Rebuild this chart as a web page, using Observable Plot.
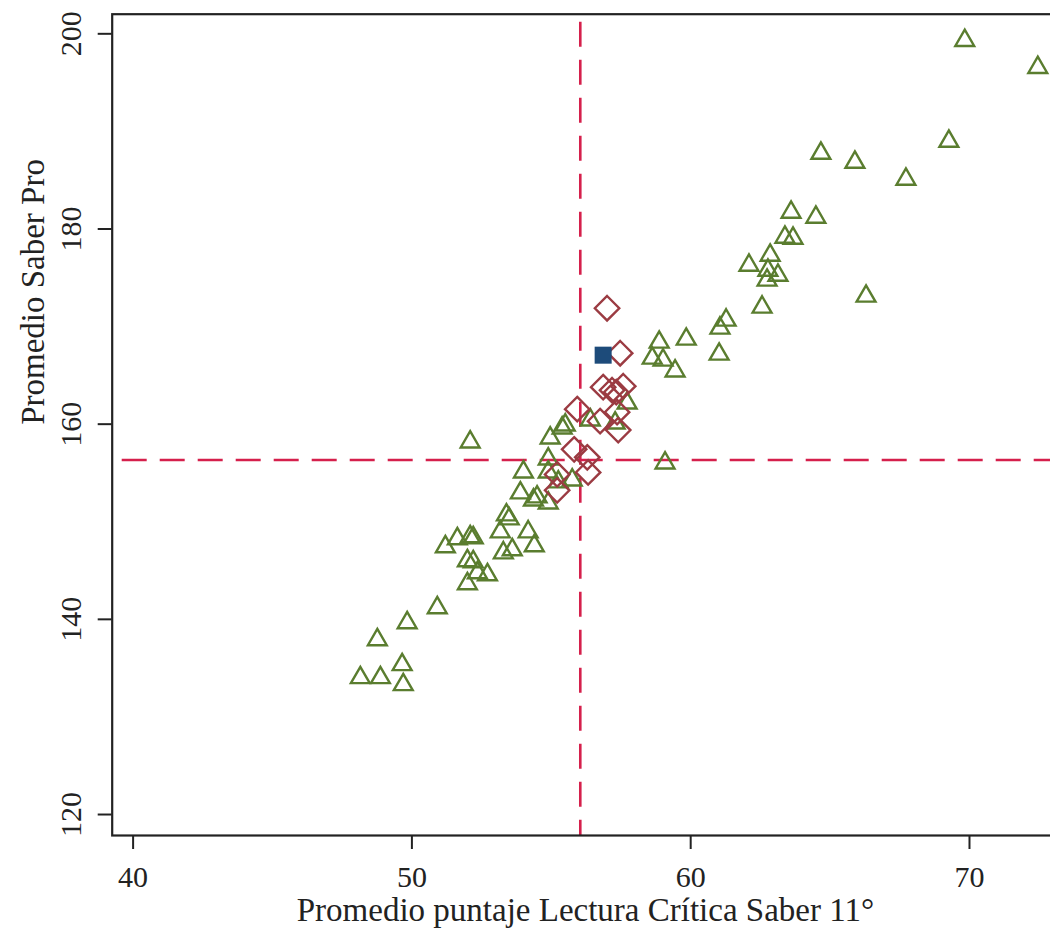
<!DOCTYPE html>
<html><head><meta charset="utf-8">
<script src="https://cdn.jsdelivr.net/npm/d3@7"></script>
<script src="https://cdn.jsdelivr.net/npm/@observablehq/plot@0.6"></script>
<style>
html,body{margin:0;padding:0;background:#fff;overflow:hidden;}
#chart svg{overflow:hidden;}
</style></head><body><div id="chart"></div>
<script>
// Green triangles (other programs)
const greenX = [69.83,72.45,69.26,64.67,65.89,67.72,63.60,64.49,63.38,63.67,62.85,62.09,62.77,63.13,62.74,66.29,62.56,61.27,61.05,59.84,58.87,61.02,58.62,59.01,59.44,57.72,57.29,56.40,55.50,55.39,54.96,52.09,54.89,54.89,54.00,55.25,55.75,59.08,53.89,54.36,54.49,54.89,53.39,53.49,53.17,54.17,54.39,53.28,53.60,51.20,51.63,52.09,52.20,51.99,52.20,52.35,52.71,51.99,50.91,49.83,48.76,49.65,49.69,48.15,48.87];
const greenY = [199.31,196.55,188.98,187.75,186.83,185.09,181.71,181.20,179.15,179.05,177.31,176.28,175.77,175.26,174.75,173.11,171.99,170.66,169.84,168.71,168.40,167.17,166.76,166.56,165.44,162.16,160.11,160.42,159.91,159.60,158.58,158.17,156.43,155.10,155.10,154.08,154.28,156.02,152.95,152.23,152.54,151.92,150.70,150.29,148.96,148.96,147.53,146.81,147.12,147.43,148.25,148.46,148.35,146.00,145.90,144.77,144.56,143.64,141.18,139.65,137.91,135.35,133.30,134.02,134.02];
// Red diamonds
const redX = [57.00,57.47,56.86,57.18,57.58,57.33,55.93,56.75,57.40,57.36,55.82,56.29,56.32,55.21,55.21];
const redY = [171.88,167.27,163.79,163.48,163.89,163.28,161.54,160.31,159.39,161.23,157.42,156.60,155.06,154.85,153.22];
// Blue square
const blueX = [56.86];
const blueY = [167.07];
// Reference lines (means)
const meanX = [56.04];
const meanY = [156.33];
const xTicks = [40, 50, 60, 70];
const yTicks = [120, 140, 160, 180, 200];
const xLabel = "Promedio puntaje Lectura Crítica Saber 11°";
const yLabel = "Promedio Saber Pro";

const green = greenX.map((x, i) => ({x, y: greenY[i]}));
const red = redX.map((x, i) => ({x, y: redY[i]}));
const blue = blueX.map((x, i) => ({x, y: blueY[i]}));

const plot = Plot.plot({
  width: 1050, height: 929,
  marginLeft: 111.7, marginTop: 13.7, marginBottom: 94, marginRight: -8.2,
  style: {fontFamily: "'Liberation Serif', serif", background: "#fff", color: "#222"},
  x: {domain: [39.25, 73.2]},
  y: {domain: [117.85, 202.01]},
  marks: [
    Plot.ruleX(meanX, {stroke: "#d5204c", strokeWidth: 2.6, strokeDasharray: "25,13", strokeDashoffset: 30}),
    Plot.ruleY(meanY, {stroke: "#d5204c", strokeWidth: 2.6, strokeDasharray: "25,13", strokeDashoffset: 28}),
    Plot.dot(green, {x: "x", y: "y", symbol: "triangle", r: 7, stroke: "#5a7d2f", strokeWidth: 2.4, fill: "none"}),
    Plot.dot(red, {x: "x", y: "y", symbol: "diamond2", r: 11, stroke: "#9b3b42", strokeWidth: 2.4, fill: "none"}),
    Plot.dot(blue, {x: "x", y: "y", symbol: "square", r: 9.6, fill: "#1d4b7a", stroke: "none"}),
    Plot.frame({stroke: "#222", strokeWidth: 2.2}),
    Plot.axisX(xTicks, {tickSize: 14, tickPadding: 16, fontSize: 30, strokeWidth: 2, label: null}),
    Plot.axisY(yTicks, {tickSize: 14, tickPadding: 17, tickRotate: -90, fontSize: 30, strokeWidth: 2, label: null}),
    Plot.text([xLabel], {frameAnchor: "bottom", dy: 85, fontSize: 33, lineAnchor: "bottom"}),
    Plot.text([yLabel], {frameAnchor: "left", dx: -68.7, rotate: -90, fontSize: 33, lineAnchor: "bottom"})
  ]
});
document.getElementById("chart").appendChild(plot);
</script>
</body></html>
